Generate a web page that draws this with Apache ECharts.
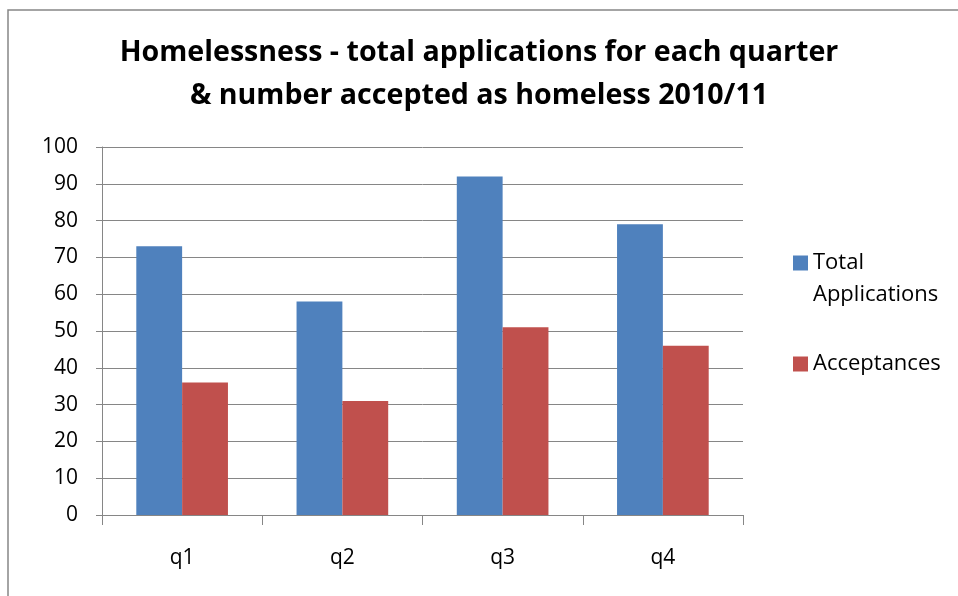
<!DOCTYPE html>
<html><head><meta charset="utf-8">
<script src="https://cdn.jsdelivr.net/npm/echarts@6/dist/echarts.min.js"></script>
<style>html,body{margin:0;padding:0;background:#fff}#c{width:958px;height:596px}</style>
</head><body><div id="c"></div>
<script>
const categories = ['q1','q2','q3','q4'];
const totalApplications = [73, 58, 92, 79];
const acceptances = [36, 31, 51, 46];
const seriesNames = ['Total\nApplications', 'Acceptances'];
const titleText = 'Homelessness - total applications for each quarter\n& number accepted as homeless 2010/11';

const chart = echarts.init(document.getElementById('c'));
const font = 'Open Sans';
chart.setOption({
  animation: false,
  graphic: [{
    type: 'polyline', shape: { points: [[8, 596], [8, 10], [958, 10]] },
    style: { stroke: '#868686', lineWidth: 1.5, fill: null }
  }],
  title: {
    text: titleText, left: 'center', top: 26,
    textStyle: { fontFamily: font, fontWeight: 'bold', fontSize: 28.6, lineHeight: 43, color: '#000' }
  },
  legend: {
    orient: 'vertical', left: 788, top: 210, itemWidth: 15, itemHeight: 15, itemGap: 37,
    icon: 'rect',
    textStyle: { fontFamily: font, fontSize: 22, lineHeight: 32, color: '#000' },
    formatter: function (name) { return name === seriesNames[0] ? ' \n' + name : name; },
    data: seriesNames
  },
  grid: { left: 102, right: 215, top: 147, bottom: 81 },
  xAxis: {
    type: 'category', data: categories,
    axisLine: { lineStyle: { color: '#868686' } },
    axisTick: { show: true, length: 10, lineStyle: { color: '#868686' } },
    axisLabel: { fontFamily: font, fontSize: 21, color: '#000', margin: 33 }
  },
  yAxis: {
    type: 'value', min: 0, max: 100, interval: 10,
    axisLine: { show: true, lineStyle: { color: '#868686' } },
    axisTick: { show: true, length: 6, lineStyle: { color: '#868686' } },
    splitLine: { lineStyle: { color: '#868686' } },
    axisLabel: { fontFamily: font, fontSize: 21, color: '#000', margin: 24 }
  },
  series: [
    { name: seriesNames[0], type: 'bar', data: totalApplications, barWidth: '28.6%', barGap: '0%', itemStyle: { color: '#4F81BD' } },
    { name: seriesNames[1], type: 'bar', data: acceptances, barWidth: '28.6%', itemStyle: { color: '#C0504D' } }
  ]
});
</script></body></html>
